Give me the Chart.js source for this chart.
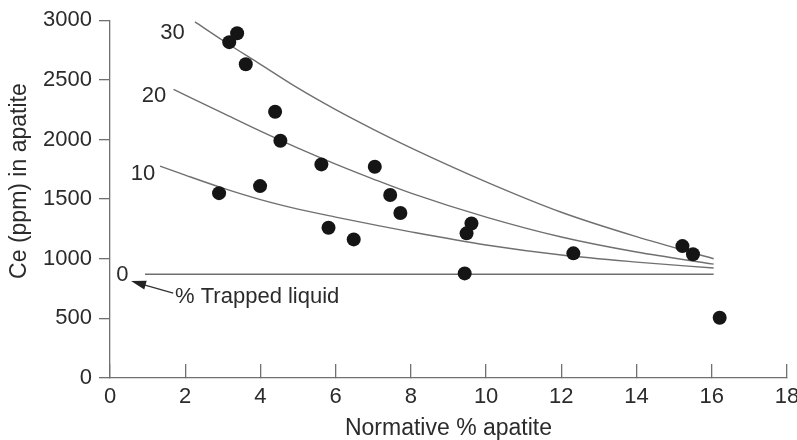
<!DOCTYPE html>
<html>
<head>
<meta charset="utf-8">
<script src="https://cdn.jsdelivr.net/npm/chart.js@4.4.0/dist/chart.umd.min.js"></script>
<style>
  body { margin: 0; background: #fff; }
  canvas { display: block; }
</style>
</head>
<body>
<canvas id="apatiteChart" width="797" height="440"></canvas>
<script>
// measured samples (normative % apatite vs Ce ppm)
const sampleX = [2.9, 3.99, 3.17, 3.38, 3.61, 4.39, 4.53, 5.62, 7.04, 7.45, 7.72, 5.81, 6.48, 9.48, 9.61, 9.43, 12.32, 15.22, 15.5, 16.21];
const sampleY = [1550, 1609, 2816, 2891, 2631, 2232, 1989, 1791, 1771, 1534, 1383, 1260, 1162, 1213, 1296, 877, 1045, 1106, 1037, 505];

// model curves, % trapped liquid
const curve30X = [2.26, 3, 4, 5, 6, 7, 8, 10, 12, 14, 16.05];
const curve30Y = [2986, 2830, 2630, 2430, 2250, 2085, 1930, 1645, 1390, 1185, 1000];
const curve20X = [1.69, 3, 4, 5, 6, 7, 8, 10, 12, 14, 16.05];
const curve20Y = [2420, 2221, 2070, 1927, 1793, 1668, 1550, 1349, 1182, 1056, 955];
const curve10X = [1.33, 2, 3, 4, 5, 6, 7, 8, 10, 12, 14, 16.05];
const curve10Y = [1777, 1701, 1592, 1496, 1416, 1349, 1286, 1225, 1115, 1031, 972, 922];
const curve0X = [0.93, 16.05];
const curve0Y = [870, 870];

const curveLabels = ['30', '20', '10', '0'];
const xTicks = [0, 2, 4, 6, 8, 10, 12, 14, 16, 18];
const yTicks = [0, 500, 1000, 1500, 2000, 2500, 3000];

// where the annotation texts sit (data units)
const labelAt = [[1.66, 2895], [1.17, 2363], [0.88, 1710], [0.33, 863]];
const noteAt = [1.73, 681];
const arrowFrom = [1.68, 712];
const arrowTo = [0.56, 813];

const textColor = '#2b2b2b';
const lineColor = '#707070';
const fontFamily = '"Liberation Sans", Arial, Helvetica, sans-serif';

const toPoints = (xs, ys) => xs.map((v, i) => ({ x: v, y: ys[i] }));

const curveStyle = {
    showLine: true,
    pointRadius: 0,
    borderColor: lineColor,
    borderWidth: 1.4,
    cubicInterpolationMode: 'monotone',
    fill: false,
    order: 2
};

const annotate = {
    id: 'annotate',
    afterDatasetsDraw(chart) {
        const { ctx, scales: { x, y } } = chart;
        ctx.save();
        ctx.fillStyle = textColor;
        ctx.font = '22px ' + fontFamily;
        ctx.textBaseline = 'middle';
        ctx.textAlign = 'center';
        curveLabels.forEach((t, i) => {
            ctx.fillText(t, x.getPixelForValue(labelAt[i][0]), y.getPixelForValue(labelAt[i][1]));
        });
        ctx.textAlign = 'left';
        ctx.fillText('% Trapped liquid', x.getPixelForValue(noteAt[0]), y.getPixelForValue(noteAt[1]));

        // arrow pointing at the 0 label
        const x1 = x.getPixelForValue(arrowFrom[0]), y1 = y.getPixelForValue(arrowFrom[1]);
        const x2 = x.getPixelForValue(arrowTo[0]), y2 = y.getPixelForValue(arrowTo[1]);
        const ang = Math.atan2(y2 - y1, x2 - x1);
        ctx.strokeStyle = '#333';
        ctx.lineWidth = 1.3;
        ctx.beginPath();
        ctx.moveTo(x1, y1);
        ctx.lineTo(x2 - 10 * Math.cos(ang), y2 - 10 * Math.sin(ang));
        ctx.stroke();
        ctx.fillStyle = '#222';
        ctx.beginPath();
        ctx.moveTo(x2, y2);
        ctx.lineTo(x2 - 15 * Math.cos(ang) + 4.5 * Math.sin(ang), y2 - 15 * Math.sin(ang) - 4.5 * Math.cos(ang));
        ctx.lineTo(x2 - 15 * Math.cos(ang) - 4.5 * Math.sin(ang), y2 - 15 * Math.sin(ang) + 4.5 * Math.cos(ang));
        ctx.closePath();
        ctx.fill();

        // y axis title
        ctx.fillStyle = textColor;
        ctx.font = '23px ' + fontFamily;
        ctx.textAlign = 'center';
        ctx.translate(20, (y.top + y.bottom) / 2 - 18);
        ctx.rotate(-Math.PI / 2);
        ctx.fillText('Ce (ppm) in apatite', 0, 0);
        ctx.restore();
    }
};

new Chart(document.getElementById('apatiteChart').getContext('2d'), {
    type: 'scatter',
    data: {
        datasets: [
            {
                label: 'Samples',
                data: toPoints(sampleX, sampleY),
                pointRadius: 7,
                pointHoverRadius: 7,
                pointBorderWidth: 0,
                backgroundColor: '#151515',
                borderColor: '#151515',
                order: 1
            },
            { label: '30', data: toPoints(curve30X, curve30Y), ...curveStyle },
            { label: '20', data: toPoints(curve20X, curve20Y), ...curveStyle },
            { label: '10', data: toPoints(curve10X, curve10Y), ...curveStyle },
            { label: '0', data: toPoints(curve0X, curve0Y), ...curveStyle, cubicInterpolationMode: 'default', tension: 0 }
        ]
    },
    options: {
        responsive: false,
        animation: false,
        layout: { padding: { top: 20, right: 10, left: 0, bottom: 0 } },
        plugins: {
            legend: { display: false },
            tooltip: { enabled: false }
        },
        scales: {
            x: {
                type: 'linear',
                min: 0,
                max: 18,
                afterFit(s) {
                    s.height = 62;
                    s.paddingLeft = 0;
                    s.paddingRight = 10;
                },
                afterBuildTicks(s) { s.ticks = xTicks.map(v => ({ value: v })); },
                ticks: {
                    padding: 20,
                    color: textColor,
                    font: { family: fontFamily, size: 22 },
                    callback: v => String(v)
                },
                grid: { drawOnChartArea: false, tickLength: -14, color: lineColor, lineWidth: 1.3 },
                border: { color: lineColor, width: 1.3 },
                title: {
                    display: true,
                    text: 'Normative % apatite',
                    color: textColor,
                    font: { family: fontFamily, size: 23 },
                    padding: { top: 0, bottom: -2 }
                }
            },
            y: {
                type: 'linear',
                min: 0,
                max: 3000,
                afterFit(s) { s.width = 110; },
                afterBuildTicks(s) { s.ticks = yTicks.map(v => ({ value: v })); },
                ticks: {
                    padding: 7,
                    color: textColor,
                    font: { family: fontFamily, size: 22 },
                    callback: v => String(v)
                },
                grid: { drawOnChartArea: false, tickLength: 11, color: lineColor, lineWidth: 1.3 },
                border: { color: lineColor, width: 1.3 }
            }
        }
    },
    plugins: [annotate]
});
</script>
</body>
</html>
